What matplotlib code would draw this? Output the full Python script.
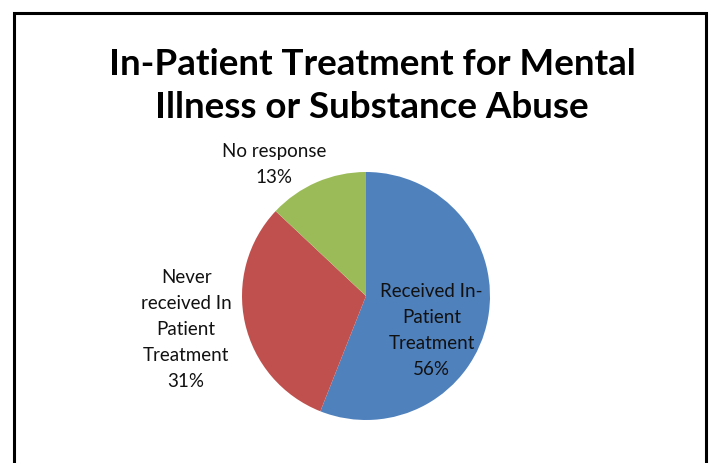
import matplotlib
matplotlib.use('Agg')
import matplotlib.pyplot as plt
from matplotlib.patches import Rectangle

plt.rcParams['font.family'] = ['Lato', 'DejaVu Sans']

title = 'In-Patient Treatment for Mental\nIllness or Substance Abuse'
categories = ['Received In-\nPatient\nTreatment', 'Never\nreceived In\nPatient\nTreatment', 'No response']
shares = [56, 31, 13]
colors = ['#4F81BD', '#C0504D', '#9BBB59']
# where each label sits, in pie radius units
label_pos = [(0.53, -0.27), (-1.45, -0.26), (-0.74, 1.07)]

W, H = 721, 464
fig = plt.figure(figsize=(W / 100, H / 100), dpi=100)

# chart frame, runs off the bottom edge
fig.patches.append(Rectangle((14 / W, -0.05), (706 - 14) / W, (H - 14) / H + 0.05,
                             transform=fig.transFigure, fill=False,
                             edgecolor='black', linewidth=2.2))

fig.text(372 / W, 1 - 86 / H, title, ha='center', va='center',
         fontsize=26.5, fontweight='bold', linespacing=1.4)

cx, cy, r = 366, 297, 124
ax = fig.add_axes([(cx - r) / W, (H - cy - r) / H, 2 * r / W, 2 * r / H])
ax.pie(shares, colors=colors, startangle=90, counterclock=False, radius=1,
       wedgeprops=dict(linewidth=0))
ax.set_xlim(-1, 1)
ax.set_ylim(-1, 1)
ax.set_aspect('auto')
ax.axis('off')

for name, val, (x, y) in zip(categories, shares, label_pos):
    ax.text(x, y, f'{name}\n{val}%', ha='center', va='center',
            fontsize=13.5, linespacing=1.65, color='#111111')

fig.savefig('out.png', dpi=100)
